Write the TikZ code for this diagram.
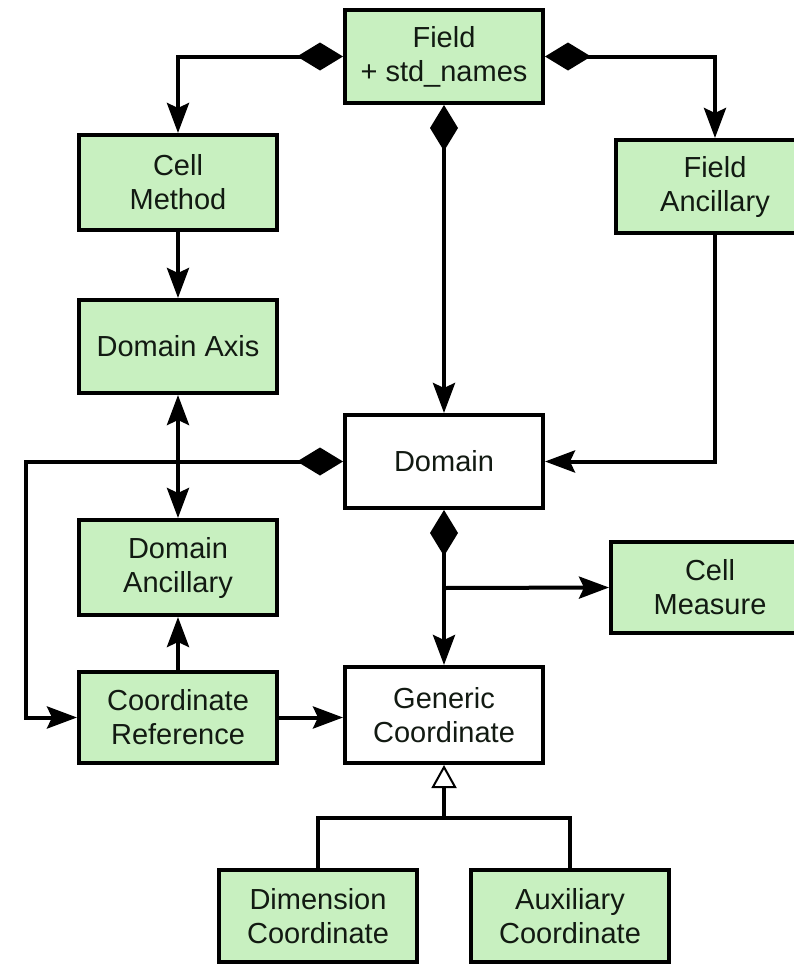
\documentclass[tikz,border=0pt]{standalone}
\usepackage{fontspec}
\setmainfont{Liberation Sans}
\usetikzlibrary{arrows.meta}

\definecolor{boxgreen}{RGB}{200,240,192}
\definecolor{inkdark}{RGB}{18,26,18}

\tikzset{
  classbox/.style={draw=black, line width=4pt, fill=boxgreen, text=inkdark,
    minimum width=198pt, minimum height=93pt, inner sep=0pt, align=center,
    font=\fontsize{29}{34}\selectfont},
  plainbox/.style={classbox, fill=white},
  link/.style={line width=4pt, draw=black},
  arr/.tip={Stealth[length=30pt, width=22pt, inset=5pt]},
  comp/.tip={Diamond[length=46pt, width=28pt]},
  inherit/.tip={Triangle[open, fill=white, line width=2pt, length=23pt, width=25pt]},
  owns/.style={link, {comp}-{arr}},
  refs/.style={link, -{arr}},
  bothways/.style={link, {arr}-{arr}},
  isa/.style={link, -{inherit}}
}

\begin{document}
\begin{tikzpicture}[x=1pt, y=-1pt]
  \useasboundingbox (0,0) rectangle (794,964);
  \clip (0,0) rectangle (794,964);

  % classes
  \node[classbox] (field)   at (444,56.5)  {Field\\+ std\_names};
  \node[classbox, minimum height=95pt] (cellm) at (178,182.5) {Cell\\Method};
  \node[classbox] (fanc)    at (715,186.5) {Field\\Ancillary};
  \node[classbox] (daxis)   at (178,346.5) {Domain Axis};
  \node[plainbox] (domain)  at (444,461.5) {Domain};
  \node[classbox, minimum height=95pt] (danc) at (178,567.5) {Domain\\Ancillary};
  \node[classbox, minimum height=91pt] (cmeas) at (710,587.5) {Cell\\Measure};
  \node[classbox, minimum height=91pt] (cref)  at (178,717.5) {Coordinate\\Reference};
  \node[plainbox, minimum height=96pt] (generic) at (444,715) {Generic\\Coordinate};
  \node[classbox, minimum height=92pt] (dimc) at (318,916) {Dimension\\Coordinate};
  \node[classbox, minimum height=92pt] (auxc) at (570,916) {Auxiliary\\Coordinate};

  % helper points
  \coordinate (leftrail) at (26,0);
  \coordinate (split) at (444,588);
  \coordinate (genbar) at (444,818);

  % composition links from Field
  \draw[owns] (field.west) -| (cellm.north);
  \draw[owns] (field.east) -| (fanc.north);
  \draw[owns] (field.south) -- (domain.north);

  % Cell Method to Domain Axis
  \draw[refs] (cellm.south) -- (daxis.north);

  % Field Ancillary to Domain
  \draw[refs] (fanc.south) |- (domain.east);

  % Domain to Coordinate Reference, round the left side
  \draw[owns] (domain.west) -| (leftrail |- cref.west) -- (cref.west);

  % Domain Axis and Domain Ancillary
  \draw[bothways] (daxis.south) -- (danc.north);

  % Coordinate Reference links
  \draw[refs] (cref.north) -- (danc.south);
  \draw[refs] (cref.east) -- (cref.east -| generic.west);

  % Domain to Generic Coordinate and Cell Measure
  \draw[owns] (domain.south) -- (generic.north);
  \draw[refs] (split) -- (cmeas.west);

  % generalisation
  \draw[link] (dimc.north) |- (genbar) -| (auxc.north);
  \draw[isa] (genbar) -- (generic.south);
\end{tikzpicture}
\end{document}
